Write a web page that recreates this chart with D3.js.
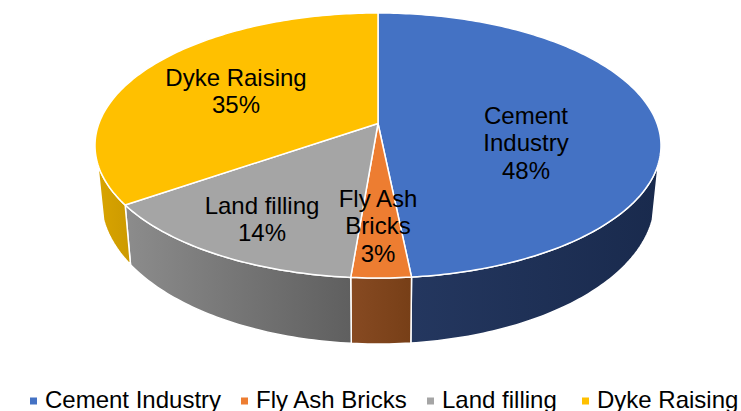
<!DOCTYPE html>
<html>
<head>
<meta charset="utf-8">
<script src="https://cdn.jsdelivr.net/npm/d3@7"></script>
<style>
  html, body { margin: 0; padding: 0; background: #fff; }
  text { font-family: "Liberation Sans", Arial, sans-serif; fill: #000; }
</style>
</head>
<body>
<script>
const categories = ["Cement Industry", "Fly Ash Bricks", "Land filling", "Dyke Raising"];
const shares = [48.4, 2.9, 14.0, 34.7];
const colours = ["#4472C4", "#ED7D31", "#A5A5A5", "#FFC000"];
const sideLeft = ["#24375f", "#874a22", "#8c8c8c", "#d9a400"];
const sideRight = ["#192a4d", "#773f17", "#5f5f5f", "#cc9a00"];
// label lines, split the way the picture wraps them
const labelLines = [["Cement", "Industry"], ["Fly Ash", "Bricks"], ["Land filling"], ["Dyke Raising"]];

const width = 741, height = 411;

const svg = d3.select("body").append("svg")
    .attr("width", width)
    .attr("height", height)
    .style("display", "block");

// top face and bottom rim of the tilted disc
const top_ = {cx: 378, cy: 145.5, rx: 283, ry: 132.5};
const bottom = {cx: 378, cy: 200, rx: 277, ry: 144};
// perspective pulls the apex up from the ellipse centre
const k = -0.166;

function project(e, a) {
    const u = Math.sin(a), v = -Math.cos(a);
    const d = 1 + k * v;
    return [e.cx + e.rx * u * Math.sqrt(1 - k * k) / d, e.cy + e.ry * (v + k) / d];
}

const pie = d3.pie().sort(null).value(d => d);
const arcs = pie(shares);
const line = d3.line();

function steps(a0, a1) {
    const n = Math.max(2, Math.ceil((a1 - a0) * 60));
    return d3.range(n + 1).map(i => a0 + (a1 - a0) * i / n);
}

const defs = svg.append("defs");

// side walls, only the front of the rim shows
const front0 = Math.PI / 2 + 0.3, front1 = Math.PI * 1.5 - 0.3;
arcs.forEach((d, i) => {
    const a0 = Math.max(d.startAngle, front0), a1 = Math.min(d.endAngle, front1);
    if (a1 <= a0) return;
    const upper = steps(a0, a1).map(a => project(top_, a));
    const lower = steps(a0, a1).map(a => project(bottom, a)).reverse();
    const pts = upper.concat(lower);
    const xs = d3.extent(pts, p => p[0]);
    const grad = defs.append("linearGradient")
        .attr("id", "side" + i)
        .attr("gradientUnits", "userSpaceOnUse")
        .attr("x1", xs[0]).attr("x2", xs[1])
        .attr("y1", 0).attr("y2", 0);
    grad.append("stop").attr("offset", 0).attr("stop-color", sideLeft[i]);
    grad.append("stop").attr("offset", 1).attr("stop-color", sideRight[i]);
    svg.append("path")
        .attr("d", line(pts) + "Z")
        .attr("fill", "url(#side" + i + ")")
        .attr("stroke", "#fff")
        .attr("stroke-width", 1.5)
        .attr("stroke-linejoin", "round");
});

// top face
const apex = [top_.cx, top_.cy + top_.ry * k];
arcs.forEach((d, i) => {
    const rim = steps(d.startAngle, d.endAngle).map(a => project(top_, a));
    svg.append("path")
        .attr("d", line([apex].concat(rim)) + "Z")
        .attr("fill", colours[i])
        .attr("stroke", "#fff")
        .attr("stroke-width", 1.5)
        .attr("stroke-linejoin", "round");
});

// data labels
const fontSize = 24, lineH = 27.5;
const labelCentres = [[526, 143], [378, 226], [262, 219], [236, 91]];
arcs.forEach((d, i) => {
    const lines = labelLines[i].concat([Math.round(shares[i]) + "%"]);
    const t = svg.append("text")
        .attr("text-anchor", "middle")
        .style("font-size", fontSize + "px");
    lines.forEach((s, j) => {
        t.append("tspan")
            .attr("x", labelCentres[i][0])
            .attr("y", labelCentres[i][1] + (j - (lines.length - 1) / 2) * lineH + fontSize * 0.35)
            .text(s);
    });
});

// legend
const legendX = [30, 241, 427, 582];
categories.forEach((c, i) => {
    svg.append("rect")
        .attr("x", legendX[i]).attr("y", 397.5)
        .attr("width", 7).attr("height", 7)
        .attr("fill", colours[i]);
    svg.append("text")
        .attr("x", legendX[i] + 15).attr("y", 408)
        .style("font-size", fontSize + "px")
        .text(c);
});
</script>
</body>
</html>
